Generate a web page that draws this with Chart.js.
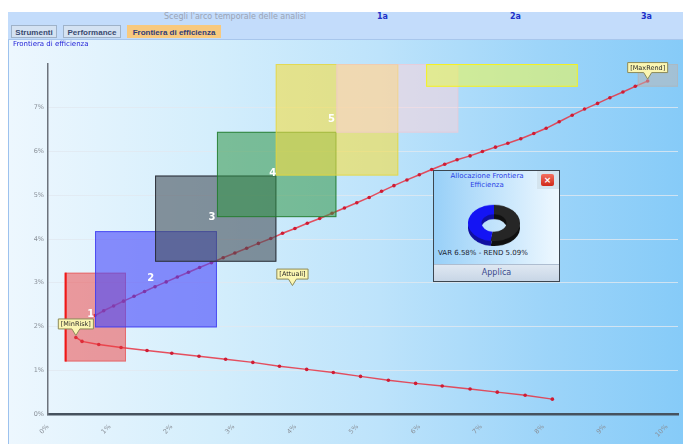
<!DOCTYPE html>
<html>
<head>
<meta charset="utf-8">
<script src="https://cdn.jsdelivr.net/npm/chart.js@4"></script>
<style>
body{margin:0;width:683px;height:444px;overflow:hidden;background:#fff;position:relative;font-family:"DejaVu Sans",sans-serif}
#bar{position:absolute;left:8px;top:12px;width:675px;height:27px;background:#c3dcfb;border-bottom:1px solid #a8c6ec}
#bar .ttl{position:absolute;left:156px;top:0;font-size:8px;color:#9aa3b4}
#bar .hz{position:absolute;top:0;font-size:8px;font-weight:bold;color:#2030c8}
.tab{position:absolute;top:13px;height:13px;line-height:13px;font-size:8px;font-family:"Liberation Sans",sans-serif;font-weight:bold;white-space:nowrap;overflow:hidden;text-align:center;color:#3a4a70;background:#d4e2f2;border:1px solid #9fb2c8;box-sizing:border-box}
.tab.on{background:#f8c97e;border-color:#f8c97e;color:#303c78}
#main{position:absolute;left:8px;top:40px;width:675px;height:404px;border-left:1px solid #9dc2ee;box-sizing:border-box;
 background:linear-gradient(to right,#edf7fe 0%,#d4eefc 30%,#bde3fb 55%,#9cd4f9 80%,#86cbf8 100%)}
#main .cap{position:absolute;left:4px;top:0;font-size:7px;color:#2424d8}
#chart{position:absolute;left:0;top:0}
#pop{position:absolute;left:433px;top:170px;width:127px;height:112px;border:1px solid #3c4650;box-sizing:border-box;
 background:linear-gradient(to right,#98d0f8,#eef8ff)}
#pop .t{position:absolute;left:0;width:106px;top:1px;text-align:center;font-size:7px;line-height:9px;color:#2a3ee6}
#pop .x{position:absolute;right:0;top:0;width:22px;height:18px;background:#d4e4ee}
#pop .x div{position:absolute;left:4px;top:3px;width:13px;height:12px;border-radius:2px;background:linear-gradient(#f47060,#d02818);color:#fff;font-size:9px;line-height:12px;text-align:center;font-weight:bold}
#pop .v{position:absolute;left:4px;top:78px;font-size:7px;color:#1c2430;white-space:nowrap}
#pop .b{position:absolute;left:0;right:0;bottom:0;height:16px;line-height:16px;text-align:center;font-size:8px;color:#3a4a8c;
 background:linear-gradient(#dfe8f2,#c8d6e6);border-top:1px solid #aebdd0}
#dwrap{position:absolute;left:34px;top:26px;width:52px;height:52px;transform:scaleY(0.7)}
#dwrap canvas{position:absolute;left:0}
</style>
</head>
<body>
<div id="bar">
  <div class="ttl">Scegli l'arco temporale delle analisi</div>
  <div class="tab" style="left:3px;width:46px">Strumenti</div>
  <div class="tab" style="left:55px;width:58px">Performance</div>
  <div class="tab on" style="left:119px;width:94px">Frontiera di efficienza</div>
</div>
<div id="main">
  <canvas id="chart" width="674" height="404"></canvas>
  <div class="cap">Frontiera di efficienza</div>
</div>
<div id="pop">
  <div class="t">Allocazione Frontiera<br>Efficienza</div>
  <div class="x"><div>&#215;</div></div>
  <div id="dwrap"><canvas id="dshadow" width="52" height="52" style="top:7px"></canvas><canvas id="dtop" width="52" height="52" style="top:0"></canvas></div>
  <div class="v">VAR 6.58% - REND 5.09%</div>
  <div class="b">Applica</div>
</div>
<script>
// horizons in the top bar
var horizons = ['1a', '2a', '3a']
var horizonLeft = [369, 502, 633]

// axis ticks (percent)
var xTicks = [0, 1, 2, 3, 4, 5, 6, 7, 8, 9, 10]
var yTicks = [0, 1, 2, 3, 4, 5, 6, 7]

// efficient frontier (risk %, return %)
var frontRisk = [0.76, 0.90, 1.06, 1.22, 1.39, 1.56, 1.73, 1.91, 2.09, 2.27, 2.45, 2.64, 2.83, 3.02, 3.21, 3.40, 3.60, 3.79, 3.99, 4.19, 4.39, 4.59, 4.79, 4.99, 5.19, 5.39, 5.59, 5.80, 6.00, 6.20, 6.41, 6.61, 6.82, 7.02, 7.23, 7.43, 7.64, 7.85, 8.05, 8.26, 8.47, 8.67, 8.88, 9.08, 9.29, 9.49, 9.69]
var frontRet = [2.25, 2.36, 2.47, 2.58, 2.69, 2.80, 2.91, 3.02, 3.13, 3.24, 3.35, 3.46, 3.57, 3.68, 3.79, 3.90, 4.01, 4.13, 4.24, 4.36, 4.47, 4.59, 4.71, 4.83, 4.95, 5.09, 5.22, 5.35, 5.47, 5.59, 5.71, 5.81, 5.90, 6.00, 6.10, 6.19, 6.29, 6.41, 6.53, 6.68, 6.83, 6.97, 7.10, 7.23, 7.36, 7.49, 7.61]

// lower (inefficient) branch
var lowRisk = [0.45, 0.55, 0.82, 1.18, 1.60, 2.00, 2.44, 2.87, 3.31, 3.74, 4.18, 4.61, 5.05, 5.50, 5.94, 6.37, 6.82, 7.26, 7.71, 8.15]
var lowRet = [1.75, 1.66, 1.59, 1.52, 1.45, 1.39, 1.32, 1.25, 1.18, 1.09, 1.02, 0.95, 0.86, 0.77, 0.70, 0.64, 0.57, 0.50, 0.43, 0.34]

// asset boxes: risk range and return range
var boxRiskLo = [0.27, 0.76, 1.73, 2.73, 3.68, 4.66, 6.11, 9.53]
var boxRiskHi = [1.26, 2.73, 3.69, 4.66, 5.66, 6.63, 8.56, 10.18]
var boxRetLo = [1.20, 1.98, 3.48, 4.50, 5.45, 6.43, 7.48, 7.48]
var boxRetHi = [3.23, 4.18, 5.45, 6.45, 8.00, 8.00, 8.00, 8.00]

// numbered markers
var numText = ['1', '2', '3', '4', '5']
var numRisk = [0.69, 1.66, 2.65, 3.63, 4.58]
var numRet = [2.27, 3.09, 4.50, 5.50, 6.73]

// callouts
var tagText = ['[MinRisk]', '[Attuali]', '[MaxRend]']
var tagRisk = [0.45, 3.95, 9.69]
var tagRet = [1.75, 2.89, 7.61]

// allocation doughnut
var allocLabels = ['A', 'B']
var allocValues = [52, 48]

var boxFill = ['rgba(238,60,60,0.5)', 'rgba(70,70,250,0.6)', 'rgba(70,80,90,0.6)', 'rgba(50,150,70,0.55)',
    'rgba(245,222,66,0.6)', 'rgba(255,210,215,0.5)', 'rgba(230,245,90,0.6)', 'rgba(190,182,178,0.5)']
var boxLine = ['rgba(230,60,60,0.5)', 'rgba(60,60,240,0.8)', 'rgba(35,40,50,0.9)', 'rgba(30,120,40,0.8)',
    'rgba(225,212,60,0.7)', 'rgba(240,195,205,0.5)', 'rgba(245,240,30,0.95)', 'rgba(180,180,180,0.5)']

var bar = document.getElementById('bar')
horizons.forEach(function (h, i) {
    var d = document.createElement('div')
    d.className = 'hz'
    d.style.left = horizonLeft[i] + 'px'
    d.textContent = h
    bar.appendChild(d)
})

function pts(xs, ys) {
    return xs.map(function (x, i) { return { x: x, y: ys[i] } })
}

var overlay = {
    id: 'overlay',
    afterDatasetsDraw: function (chart) {
        var ctx = chart.ctx, a = chart.chartArea
        var sx = chart.scales.x, sy = chart.scales.y
        ctx.save()
        ctx.beginPath()
        ctx.rect(a.left, a.top, a.right - a.left, a.bottom - a.top)
        ctx.clip()
        for (var i = 0; i < boxRiskLo.length; i++) {
            var x0 = sx.getPixelForValue(boxRiskLo[i]), x1 = sx.getPixelForValue(boxRiskHi[i])
            var y0 = sy.getPixelForValue(boxRetHi[i]), y1 = sy.getPixelForValue(boxRetLo[i])
            ctx.fillStyle = boxFill[i]
            ctx.fillRect(x0, y0, x1 - x0, y1 - y0)
            ctx.strokeStyle = boxLine[i]
            ctx.lineWidth = 1
            ctx.strokeRect(x0 + 0.5, y0 + 0.5, x1 - x0 - 1, y1 - y0 - 1)
            if (i == 0) {
                ctx.fillStyle = '#f01818'
                ctx.fillRect(x0, y0, 2, y1 - y0)
            }
        }
        ctx.restore()

        ctx.save()
        ctx.fillStyle = '#ffffff'
        ctx.font = 'bold 10px "DejaVu Sans"'
        ctx.textAlign = 'center'
        ctx.textBaseline = 'middle'
        numText.forEach(function (t, i) {
            ctx.fillText(t, sx.getPixelForValue(numRisk[i]), sy.getPixelForValue(numRet[i]))
        })

        ctx.font = '6.5px "DejaVu Sans"'
        tagText.forEach(function (t, i) {
            var tx = sx.getPixelForValue(tagRisk[i]), ty = sy.getPixelForValue(tagRet[i]) - 2
            var w = ctx.measureText(t).width + 6, h = 10
            var bx = tx - w / 2, by = ty - 7 - h
            ctx.fillStyle = '#fbf6b2'
            ctx.strokeStyle = '#8c8a5a'
            ctx.lineWidth = 1
            ctx.beginPath()
            ctx.moveTo(bx + 0.5, by + 0.5)
            ctx.lineTo(bx + w - 0.5, by + 0.5)
            ctx.lineTo(bx + w - 0.5, by + h + 0.5)
            ctx.lineTo(tx + 4, by + h + 0.5)
            ctx.lineTo(tx, ty)
            ctx.lineTo(tx - 4, by + h + 0.5)
            ctx.lineTo(bx + 0.5, by + h + 0.5)
            ctx.closePath()
            ctx.fill()
            ctx.stroke()
            ctx.fillStyle = '#2a2a2a'
            ctx.fillText(t, tx, by + h / 2 + 1)
        })
        ctx.restore()
    }
}

var lineStyle = {
    showLine: true,
    borderColor: 'rgba(232,50,66,0.85)',
    borderWidth: 1.5,
    pointRadius: 1.8,
    pointBackgroundColor: '#cf1c34',
    pointBorderWidth: 0
}

new Chart(document.getElementById('chart'), {
    type: 'scatter',
    data: {
        datasets: [
            Object.assign({ label: 'Frontiera', data: pts(frontRisk, frontRet) }, lineStyle),
            Object.assign({ label: 'Inefficiente', data: pts(lowRisk, lowRet) }, lineStyle)
        ]
    },
    options: {
        responsive: false,
        animation: false,
        layout: { padding: { top: 24, right: 5 } },
        plugins: { legend: { display: false }, tooltip: { enabled: false } },
        scales: {
            x: {
                type: 'linear', min: 0, max: 10.18,
                afterBuildTicks: function (s) { s.ticks = xTicks.map(function (v) { return { value: v } }) },
                afterFit: function (s) { s.height = 30 },
                grid: { display: false },
                border: { color: '#46525e', width: 2.5 },
                ticks: {
                    callback: function (v) { return v + '%' },
                    font: { size: 6.5, family: 'DejaVu Sans' }, color: '#8a9098',
                    minRotation: 45, maxRotation: 45, padding: 1
                }
            },
            y: {
                min: 0, max: 8,
                afterBuildTicks: function (s) { s.ticks = yTicks.map(function (v) { return { value: v } }) },
                afterFit: function (s) { s.width = 39 },
                grid: { color: 'rgba(225,232,240,0.8)', drawTicks: false },
                border: { color: '#6c737c', width: 1.5 },
                ticks: {
                    callback: function (v) { return v + '%' },
                    font: { size: 6.5, family: 'DejaVu Sans' }, color: '#8a9098', padding: 4
                }
            }
        }
    },
    plugins: [overlay]
})

function donut(id, colors) {
    new Chart(document.getElementById(id), {
        type: 'doughnut',
        data: { labels: allocLabels, datasets: [{ data: allocValues, backgroundColor: colors, borderWidth: 0 }] },
        options: {
            responsive: false, animation: false, cutout: '48%',
            plugins: { legend: { display: false }, tooltip: { enabled: false } }
        }
    })
}
donut('dshadow', ['#101010', '#1010a0'])
donut('dtop', ['#262626', '#1414f4'])
</script>
</body>
</html>
